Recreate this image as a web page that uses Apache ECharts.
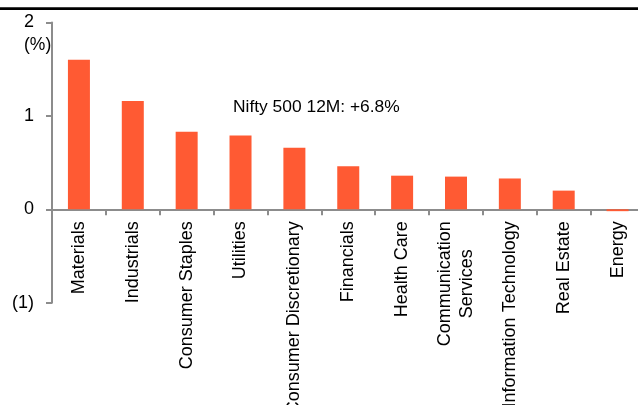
<!DOCTYPE html>
<html>
<head>
<meta charset="utf-8">
<script src="https://cdn.jsdelivr.net/npm/echarts@6/dist/echarts.min.js"></script>
<style>
  html, body { margin: 0; padding: 0; background: #fff; }
  #chart { width: 638px; height: 405px; }
</style>
</head>
<body>
<div id="chart"></div>
<script>
// Sector 12-month returns (%)
const sectors = [
  'Materials', 'Industrials', 'Consumer Staples', 'Utilities',
  'Consumer Discretionary', 'Financials', 'Health Care',
  'Communication\nServices', 'Information Technology', 'Real Estate', 'Energy'
];
const returns = [1.60, 1.16, 0.83, 0.79, 0.66, 0.46, 0.36, 0.35, 0.33, 0.20, -0.02];
const yTicks = [-1, 0, 1, 2];
const unitLabel = '(%)';
const benchmarkNote = 'Nifty 500 12M: +6.8%';

const FONT = "'Liberation Sans', Arial, sans-serif";
const AXIS_GREY = '#8c8c8c';

const GRID_TOP = 22.5;
const GRID_HEIGHT = 280.2;
const yMin = yTicks[0];
const yMax = yTicks[yTicks.length - 1];
// lift the category axis from the plot bottom up to the zero line
const zeroOffset = GRID_HEIGHT * (0 - yMin) / (yMax - yMin);

const chart = echarts.init(document.getElementById('chart'), null, { renderer: 'canvas' });

chart.setOption({
  animation: false,
  backgroundColor: '#ffffff',
  grid: {
    left: 52, top: GRID_TOP, width: 592.5, height: GRID_HEIGHT,
    containLabel: false,
    outerBoundsMode: 'none'
  },
  xAxis: {
    type: 'category',
    data: sectors,
    position: 'bottom',
    offset: -zeroOffset,
    axisLine: { show: true, onZero: false, lineStyle: { color: AXIS_GREY, width: 2 } },
    axisTick: { show: true, length: 6, lineStyle: { color: AXIS_GREY, width: 2 } },
    axisLabel: {
      interval: 0,
      rotate: 90,
      margin: 12,
      hideOverlap: false,
      color: '#000',
      fontFamily: FONT,
      fontSize: 18,
      formatter: v => v.split('\n').map(s => '{c|' + s + '}').join('\n'),
      rich: { c: { align: 'center', fontFamily: FONT, fontSize: 18, color: '#000', lineHeight: 22.5 } }
    },
    splitLine: { show: false }
  },
  yAxis: {
    type: 'value',
    min: yMin,
    max: yMax,
    interval: 1,
    axisLine: { show: true, lineStyle: { color: AXIS_GREY, width: 2 } },
    axisTick: { show: true, length: 6, lineStyle: { color: AXIS_GREY, width: 2 } },
    axisLabel: {
      margin: 18,
      color: '#000',
      fontFamily: FONT,
      fontSize: 18,
      formatter: v => (v < 0 ? '(' + Math.abs(v) + ')' : String(v))
    },
    splitLine: { show: false }
  },
  series: [{
    type: 'bar',
    data: returns,
    barWidth: 22,
    itemStyle: { color: '#FF5A33' }
  }],
  graphic: [
    {
      type: 'rect',
      z: 100,
      shape: { x: 0, y: 7.3, width: 638, height: 2.8 },
      style: { fill: '#000' }
    },
    {
      type: 'text',
      z: 100,
      left: 24,
      top: 36.5,
      style: { text: unitLabel, font: '17.5px ' + FONT, fill: '#000' }
    },
    {
      type: 'text',
      z: 100,
      left: 233,
      top: 99,
      style: { text: benchmarkNote, font: '17.4px ' + FONT, fill: '#000' }
    }
  ]
});
</script>
</body>
</html>
